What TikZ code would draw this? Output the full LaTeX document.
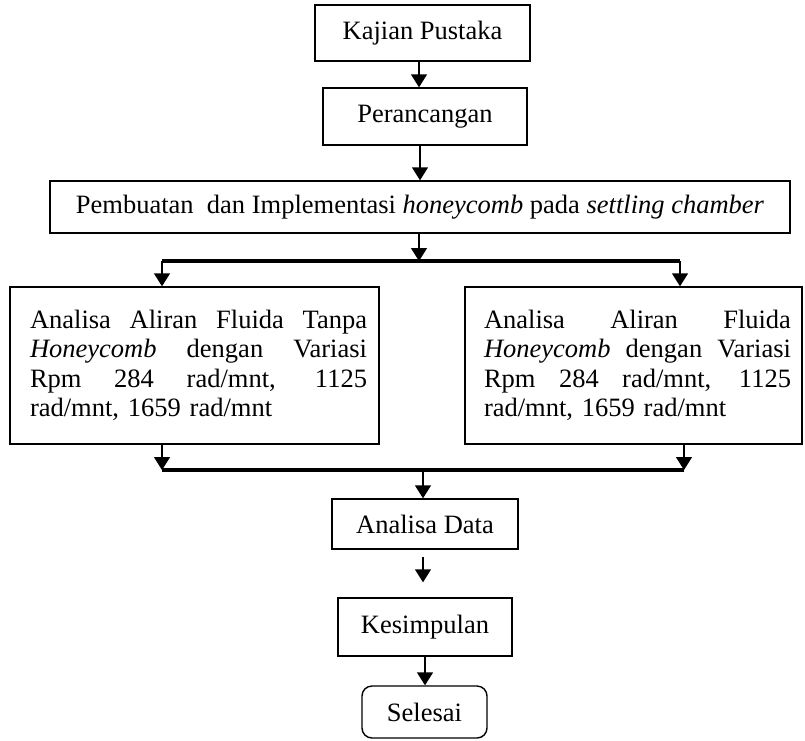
\documentclass[tikz,border=0pt]{standalone}
\usepackage{fontspec}
\setmainfont{Liberation Serif}
\usetikzlibrary{arrows.meta}
\newcommand\jline[2]{\makebox[#1][s]{\spaceskip=0pt\xspaceskip=0pt #2}}
\begin{document}
\begin{tikzpicture}[x=1pt,y=-1pt,
  every node/.style={font=\fontsize{26.5}{29.5}\selectfont},
  box/.style={draw,line width=1.4pt,rectangle,inner sep=0pt,align=center},
  tbox/.style={draw,line width=1.4pt,rectangle,inner ysep=0pt,align=left},
  arr/.style={line width=1.4pt,-{Triangle[length=13pt,width=16pt]}},
  bar/.style={line width=3.6pt}]
\useasboundingbox (0,0) rectangle (805,740);
\fill[white] (0,0) rectangle (805,740);

\node[box,minimum width=215pt,minimum height=56pt] (kp) at (422.5,33) {Kajian Pustaka};
\node[box,minimum width=204pt,minimum height=57pt] (pr) at (425,116.5) {Perancangan};
\node[box,minimum width=740pt,minimum height=52pt] (pb) at (420,207)
  {Pembuatan\ \ dan Implementasi \textit{honeycomb} pada \textit{settling chamber}};

\node[tbox,text width=345pt,inner xsep=12pt,minimum height=157pt] (lb) at (194.5,365.5)
  {\hspace*{8pt}\jline{337pt}{Analisa Aliran Fluida Tanpa}\\
   \hspace*{8pt}\jline{337pt}{\textit{Honeycomb} dengan Variasi}\\
   \hspace*{8pt}\jline{337pt}{Rpm 284 rad/mnt, 1125}\\
   \hspace*{8pt}rad/mnt, 1659 rad/mnt};
\node[tbox,text width=315pt,inner xsep=11pt,minimum height=157pt] (rb) at (633.5,365.5)
  {\hspace*{8pt}\jline{307pt}{Analisa Aliran Fluida}\\
   \hspace*{8pt}\jline{307pt}{\textit{Honeycomb} dengan Variasi}\\
   \hspace*{8pt}\jline{307pt}{Rpm 284 rad/mnt, 1125}\\
   \hspace*{8pt}rad/mnt, 1659 rad/mnt};

\node[box,minimum width=186pt,minimum height=50pt] (ad) at (425,524) {Analisa Data};
\node[box,minimum width=174pt,minimum height=58pt] (ks) at (425,627) {Kesimpulan};
\node[box,rounded corners=10pt,minimum width=125pt,minimum height=52pt] (se) at (424.5,712) {Selesai};

\coordinate (b1) at (419,261);
\coordinate (b1l) at (162,261);
\coordinate (b1r) at (680,261);
\coordinate (b2) at (423,470);
\coordinate (b2l) at (162,470);
\coordinate (b2r) at (684,470);

\draw[arr] ([xshift=-3.5pt]kp.south) -- ([xshift=-3.5pt]kp.south |- pr.north);
\draw[arr] ([xshift=-5pt]pr.south) -- ([xshift=-5pt]pr.south |- pb.north);
\draw[arr] (b1 |- pb.south) -- (b1);
\draw[bar] (b1l) -- (b1r);
\draw[arr] (b1l) -- (b1l |- lb.north);
\draw[arr] (b1r) -- (b1r |- rb.north);
\draw[arr] (b2l |- lb.south) -- (b2l);
\draw[arr] (b2r |- rb.south) -- (b2r);
\draw[bar] (b2l) -- (b2r);
\draw[arr] (b2) -- (b2 |- ad.north);
\draw[arr,shorten <=7pt,shorten >=15pt] ([xshift=-2pt]ad.south) -- ([xshift=-2pt]ad.south |- ks.north);
\draw[arr] (ks.south) -- (ks.south |- se.north);
\end{tikzpicture}
\end{document}
